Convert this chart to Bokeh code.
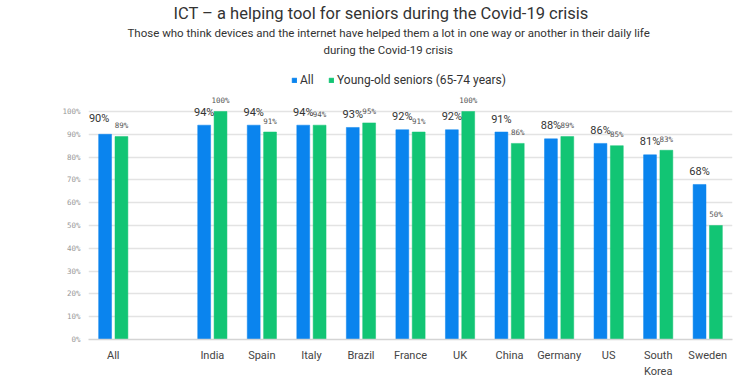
from bokeh.plotting import figure
from bokeh.models import (ColumnDataSource, FactorRange, Range1d, FixedTicker,
                          NumeralTickFormatter, Title, Legend, LegendItem, CDSView, IndexFilter)
from bokeh.transform import dodge
from bokeh.core.properties import value
from bokeh.embed import file_html
from bokeh.resources import INLINE

# ---- data ----
countries = ["All", "India", "Spain", "Italy", "Brazil", "France", "UK",
             "China", "Germany", "US", "South\nKorea", "Sweden"]
all_pct = [90, 94, 94, 94, 93, 92, 92, 91, 88, 86, 81, 68]
young_pct = [89, 100, 91, 94, 95, 91, 100, 86, 89, 85, 83, 50]
y_ticks = [0, 10, 20, 30, 40, 50, 60, 70, 80, 90, 100]
series_names = ["All", "Young-old seniors (65-74 years)"]

title_text = "ICT \u2013 a helping tool for seniors during the Covid-19 crisis"
subtitle_1 = "Those who think devices and the internet have helped them a lot in one way or another in their daily life"
subtitle_2 = "during the Covid-19 crisis"

# ---- styling ----
BLUE = "#0a84ee"
GREEN = "#12c574"
SANS = "Roboto"
MONO = "DejaVu Sans Mono"

x_factors = [countries[0], " "] + countries[1:]

src = ColumnDataSource(dict(
    cat=countries,
    all=[v / 100 for v in all_pct],
    young=[v / 100 for v in young_pct],
    all_lbl=[f"{v}%" for v in all_pct],
    young_lbl=[f"{v}%" for v in young_pct],
))

p = figure(width=754, height=386,
           x_range=FactorRange(*x_factors, range_padding=0),
           y_range=Range1d(0, 1.2412),
           output_backend="svg", toolbar_location=None,
           min_border_left=88, min_border_right=22, min_border_bottom=47,
           min_border_top=56, title=None)
p.outline_line_color = None

r_all = p.vbar(x=dodge("cat", -0.165, range=p.x_range), top="all", width=0.26,
               source=src, fill_color=BLUE, line_color=BLUE, line_width=0.5)
r_young = p.vbar(x=dodge("cat", 0.165, range=p.x_range), top="young", width=0.26,
                 source=src, fill_color=GREEN, line_color=GREEN, line_width=0.5)

# data labels
rest = CDSView(filter=IndexFilter(list(range(1, len(countries)))))
first = CDSView(filter=IndexFilter([0]))
p.text(x=dodge("cat", -0.165, range=p.x_range), y="all", text="all_lbl", source=src, view=rest,
       text_align="center", text_baseline="middle", y_offset=-13,
       text_font=value(SANS), text_font_size="11px", text_color="#333333")
p.text(x=dodge("cat", -0.165, range=p.x_range), y="all", text="all_lbl", source=src, view=first,
       text_align="center", text_baseline="middle", y_offset=-16, x_offset=-6,
       text_font=value(SANS), text_font_size="11px", text_color="#333333")
p.text(x=dodge("cat", 0.165, range=p.x_range), y="young", text="young_lbl", source=src,
       text_align="center", text_baseline="middle", y_offset=-11,
       text_font=value(MONO), text_font_size="7.5px", text_color="#555555")

# axes
p.yaxis.ticker = FixedTicker(ticks=[t / 100 for t in y_ticks])
p.yaxis.formatter = NumeralTickFormatter(format="0%")
p.yaxis.axis_line_color = None
p.yaxis.major_tick_line_color = None
p.yaxis.minor_tick_line_color = None
p.yaxis.major_tick_out = 0
p.yaxis.major_label_text_font = MONO
p.yaxis.major_label_text_font_size = "7.5px"
p.yaxis.major_label_text_color = "#999999"
p.yaxis.major_label_standoff = 8

p.xaxis.axis_line_color = "#d4d4d4"
p.xaxis.axis_line_width = 1.5
p.xaxis.major_tick_line_color = None
p.xaxis.major_tick_out = 0
p.xaxis.major_tick_in = 0
p.xaxis.major_label_text_font = SANS
p.xaxis.major_label_text_font_size = "11px"
p.xaxis.major_label_text_color = "#444444"
p.xaxis.major_label_text_line_height = 1.3
p.xaxis.major_label_standoff = 9

p.xgrid.grid_line_color = None
p.ygrid.grid_line_color = "#e3e3e3"
p.ygrid.grid_line_width = 1.5

legend = Legend(items=[LegendItem(label=series_names[0], renderers=[r_all]),
                       LegendItem(label=series_names[1], renderers=[r_young])],
                orientation="horizontal", location=(203, 252),
                glyph_width=6, glyph_height=6, label_height=6, label_standoff=3, spacing=8,
                label_text_font=SANS, label_text_font_size="12px", label_text_color="#333333",
                label_text_baseline="middle",
                border_line_color=None, background_fill_alpha=0, padding=0, margin=0)
p.add_layout(legend, "center")

p.add_layout(Title(text=subtitle_2, align="left", offset=235, text_font=SANS,
                   text_font_size="11.5px", text_font_style="normal", text_color="#333333",
                   standoff=0), "above")
p.add_layout(Title(text=subtitle_1, align="left", offset=39, text_font=SANS,
                   text_font_size="11.5px", text_font_style="normal", text_color="#333333",
                   standoff=2), "above")
p.add_layout(Title(text=title_text, align="left", offset=85, text_font=SANS,
                   text_font_size="16.5px", text_font_style="normal", text_color="#333333",
                   text_line_height=0.95, standoff=0), "above")

open("out.html", "w").write(file_html(p, INLINE))
